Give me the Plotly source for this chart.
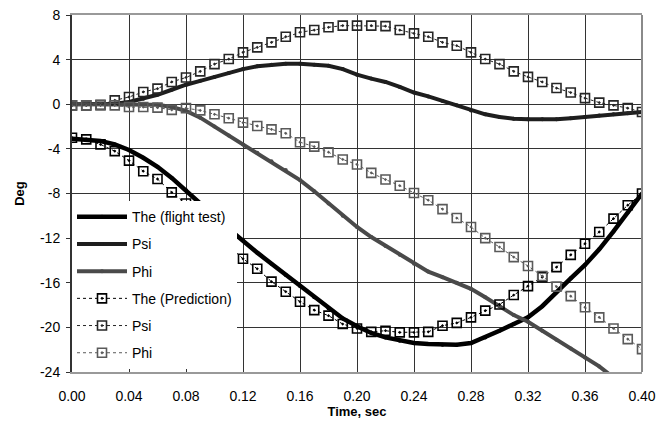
import plotly.graph_objects as go

# ---- data ----
t_flight = [round(i * 0.01, 2) for i in range(41)]
the_flight = [-3.1, -3.15, -3.3, -3.6, -4.1, -4.8, -5.6, -6.6, -7.7, -8.9,
              -10.1, -11.2, -12.2, -13.3, -14.3, -15.3, -16.3, -17.3, -18.3, -19.2,
              -19.9, -20.5, -20.9, -21.2, -21.4, -21.5, -21.55, -21.55, -21.4, -20.9,
              -20.3, -19.7, -19.1, -18.1, -16.8, -15.6, -14.4, -13.0, -11.4, -9.7, -8.0]
psi_flight = [0.0, 0.0, 0.0, 0.05, 0.2, 0.5, 0.85, 1.3, 1.75, 2.1,
              2.45, 2.8, 3.15, 3.4, 3.55, 3.62, 3.62, 3.55, 3.45, 3.15,
              2.65, 2.3, 2.0, 1.55, 1.05, 0.7, 0.3, -0.1, -0.55, -0.9,
              -1.15, -1.3, -1.35, -1.35, -1.35, -1.25, -1.15, -1.0, -0.9, -0.8, -0.7]
phi_flight = [0.0, 0.0, 0.0, 0.0, 0.0, 0.0, -0.05, -0.25, -0.6, -1.2,
              -2.0, -2.8, -3.6, -4.35, -5.1, -5.9, -6.8, -7.8, -8.9, -10.0,
              -11.0, -11.9, -12.7, -13.5, -14.3, -15.0, -15.5, -16.0, -16.55, -17.3,
              -18.1, -18.9, -19.5, -20.3, -21.1, -21.9, -22.7, -23.5, -24.5, -25.3, -26.0]

t_pred = [round(i * 0.01, 2) for i in range(41)]
the_pred = [-3.0, -3.15, -3.6, -4.2, -5.05, -6.0, -6.7, -7.9, -8.9, -10.0,
            -11.4, -12.7, -13.85, -14.75, -15.9, -16.8, -17.7, -18.45, -18.95, -19.7,
            -20.1, -20.4, -20.3, -20.45, -20.45, -20.4, -19.85, -19.6, -19.1, -18.5,
            -17.95, -17.1, -16.3, -15.5, -14.6, -13.5, -12.5, -11.45, -10.25, -9.05, -8.0]
psi_pred = [-0.1, -0.1, -0.05, 0.35, 0.65, 1.1, 1.4, 2.0, 2.4, 2.95,
            3.6, 4.05, 4.65, 5.1, 5.55, 6.05, 6.45, 6.65, 6.9, 7.05,
            7.05, 7.05, 7.0, 6.65, 6.35, 6.05, 5.55, 5.25, 4.65, 4.05,
            3.6, 2.95, 2.45, 2.0, 1.45, 1.05, 0.55, 0.15, -0.1, -0.35, -0.7]
phi_pred = [-0.1, -0.1, -0.1, -0.1, -0.25, -0.25, -0.3, -0.5, -0.35, -0.55,
            -0.9, -1.25, -1.65, -1.95, -2.25, -2.6, -3.4, -3.8, -4.3, -4.95,
            -5.4, -6.15, -6.75, -7.3, -7.95, -8.6, -9.4, -10.2, -11.0, -12.0,
            -12.8, -13.7, -14.5, -15.4, -16.35, -17.2, -18.2, -19.1, -20.1, -21.05, -21.95]

names = ["The (flight test)", "Psi", "Phi", "The (Prediction)", "Psi", "Phi"]
x_ticks = [0.00, 0.04, 0.08, 0.12, 0.16, 0.20, 0.24, 0.28, 0.32, 0.36, 0.40]
y_ticks = [8, 4, 0, -4, -8, -12, -16, -20, -24]

c_the, c_psi, c_phi = "#000000", "#1e1e1e", "#4a4a4a"
c_the_p, c_psi_p, c_phi_p = "#000000", "#262626", "#5a5a5a"

fig = go.Figure()
for i, (y, c, w) in enumerate([(the_flight, c_the, 4.5), (psi_flight, c_psi, 4), (phi_flight, c_phi, 4)]):
    fig.add_trace(go.Scatter(x=t_flight, y=y, name=names[i], mode="lines+markers",
                             line=dict(color=c, width=w), marker=dict(size=4, color=c),
                             legendgroup=f"g{i}"))
for j, (y, c, d) in enumerate([(the_pred, c_the_p, "dot"), (psi_pred, c_psi_p, "dot"), (phi_pred, c_phi_p, "3px,3px")]):
    fig.add_trace(go.Scatter(x=t_pred, y=y, name=names[3 + j], mode="lines+markers",
                             line=dict(color=c, width=1, dash=d),
                             marker=dict(symbol="square-open-dot", size=9, color=c, line=dict(width=1.6, color=c)),
                             legendgroup=f"g{3 + j}"))

fig.add_shape(type="line", xref="paper", yref="paper", x0=1, x1=1, y0=0, y1=1,
              line=dict(color="#8a8a8a", width=2))

fig.update_layout(
    width=668, height=421,
    margin=dict(l=72, r=26, t=15, b=49, autoexpand=False),
    paper_bgcolor="white", plot_bgcolor="white",
    font=dict(family="Liberation Sans, Arial, sans-serif", size=14, color="black"),
    showlegend=True,
    legend=dict(x=0.0, y=0.008, xanchor="left", yanchor="bottom", bgcolor="white",
                borderwidth=0, tracegroupgap=6, font=dict(size=14), itemwidth=50),
    xaxis=dict(range=[0, 0.4], tickvals=x_ticks, ticktext=[f"{v:.2f}" for v in x_ticks],
               showgrid=True, gridcolor="#333333", gridwidth=1, automargin=False,
               showline=True, linecolor="#999999", linewidth=2, mirror=True,
               ticks="inside", ticklen=4, tickcolor="#333333", zeroline=False,
               ticklabelstandoff=10, tickfont=dict(size=14),
               title=dict(text="<b>Time, sec</b>", standoff=4, font=dict(size=13))),
    yaxis=dict(range=[-24, 8], tickvals=y_ticks, ticktext=[str(v) for v in y_ticks],
               showgrid=True, gridcolor="#333333", gridwidth=1, automargin=False,
               showline=True, linecolor="#333333", linewidth=2,
               ticks="outside", ticklen=4, tickcolor="#333333", zeroline=False,
               ticklabelstandoff=3, tickfont=dict(size=14),
               title=dict(text="<b>Deg</b>", standoff=12, font=dict(size=13))),
)

fig.write_html("out.html")
